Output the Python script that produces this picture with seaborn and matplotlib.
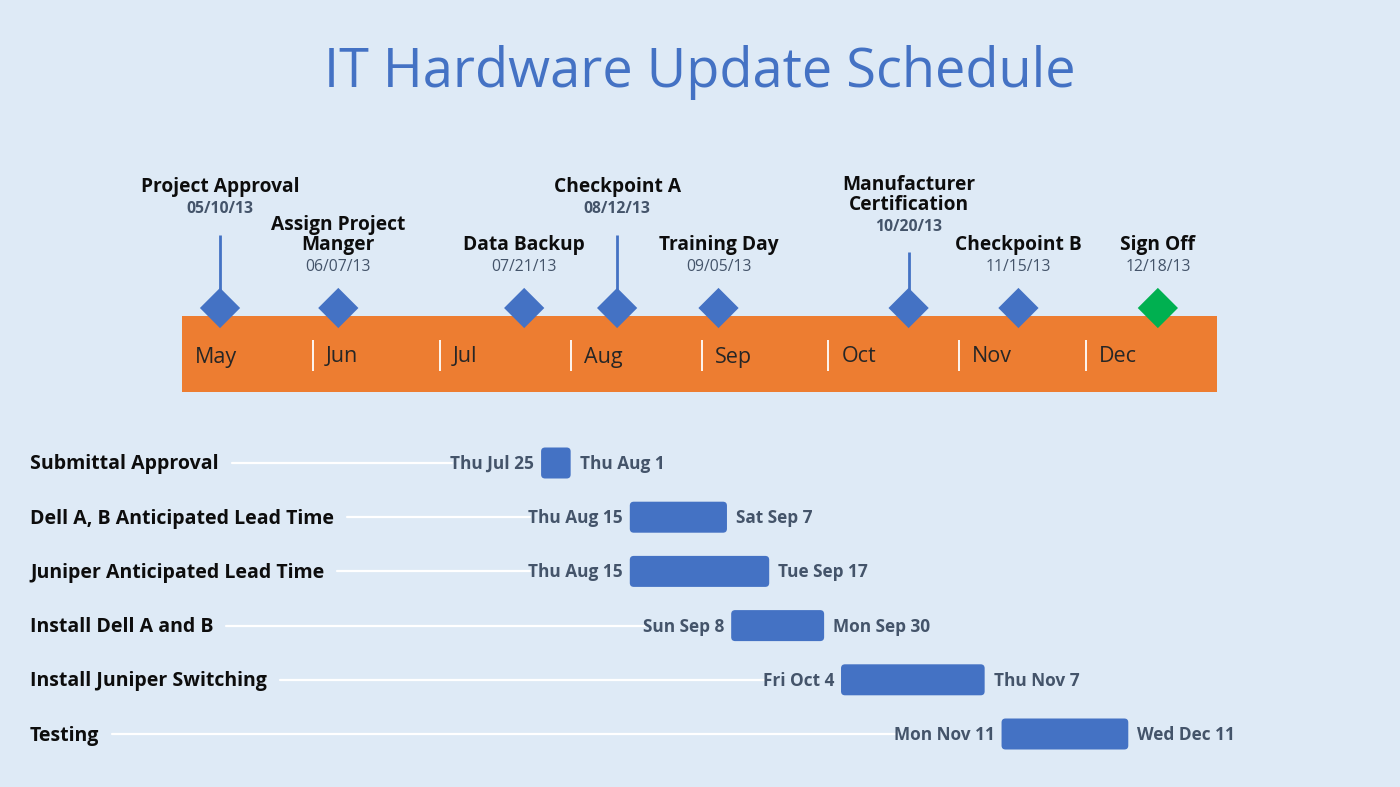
import datetime as dt
import matplotlib
matplotlib.use("Agg")
import matplotlib.pyplot as plt
import matplotlib.dates as mdates
from matplotlib.patches import FancyBboxPatch
import seaborn as sns
import pandas as pd

# ---------------- data ----------------
title = "IT Hardware Update Schedule"

months = ["May", "Jun", "Jul", "Aug", "Sep", "Oct", "Nov", "Dec"]
month_starts = ["2013-05-01", "2013-06-01", "2013-07-01", "2013-08-01",
                "2013-09-01", "2013-10-01", "2013-11-01", "2013-12-01"]
timeline_start = "2013-05-01"
timeline_end = "2014-01-01"

milestone_names = ["Project Approval", "Assign Project\nManger", "Data Backup",
                   "Checkpoint A", "Training Day", "Manufacturer\nCertification",
                   "Checkpoint B", "Sign Off"]
milestone_dates = ["2013-05-10", "2013-06-07", "2013-07-21", "2013-08-12",
                   "2013-09-05", "2013-10-20", "2013-11-15", "2013-12-18"]
milestone_kind = ["milestone"] * 7 + ["final"]
milestone_tier = ["top", "low", "low", "top", "low", "mid", "low", "low"]

tasks = ["Submittal Approval", "Dell A, B Anticipated Lead Time",
         "Juniper Anticipated Lead Time", "Install Dell A and B",
         "Install Juniper Switching", "Testing"]
task_starts = ["2013-07-25", "2013-08-15", "2013-08-15", "2013-09-08",
               "2013-10-04", "2013-11-11"]
task_ends = ["2013-08-01", "2013-09-07", "2013-09-17", "2013-09-30",
             "2013-11-07", "2013-12-11"]

# ---------------- style ----------------
BG = "#DEEAF6"
BLUE = "#4472C4"
ORANGE = "#ED7D31"
GREEN = "#00B050"
SLATE = "#44546A"
INK = "#0D0D0D"

sns.set_theme(style="white")
plt.rcParams["font.family"] = ["Open Sans", "DejaVu Sans"]

W, H = 1400, 787
fig = plt.figure(figsize=(W / 100, H / 100), dpi=100, facecolor=BG)
ax = fig.add_axes([0, 0, 1, 1])
ax.set_facecolor(BG)

t0 = mdates.date2num(pd.Timestamp(timeline_start))
t1 = mdates.date2num(pd.Timestamp(timeline_end))
band_left_px, band_right_px = 182, 1217
k = (band_right_px - band_left_px) / (t1 - t0)  # px per day
XLIM = (t0 - band_left_px / k, t0 + (W - band_left_px) / k)


def px(n):
    return n / k  # pixels -> days


# title
fig.text(0.5, 1 - 87 / H, title, ha="center", va="baseline",
         fontsize=39, color=BLUE)

# timeline band
ax.barh(354, t1 - t0, left=t0, height=76, color=ORANGE, linewidth=0, zorder=1)
ms = [mdates.date2num(pd.Timestamp(d)) for d in month_starts]
ax.vlines(ms[1:], 340, 371, color="white", lw=1.3, zorder=2)
for m, x in zip(months, ms):
    ax.text(x + px(13), 357, m, ha="left", va="center", fontsize=15.5,
            color="#262626", zorder=3)

# milestones
mdf = pd.DataFrame({
    "date": [mdates.date2num(pd.Timestamp(d)) for d in milestone_dates],
    "y": 308,
    "kind": milestone_kind,
})
tier_layout = {"top": dict(date_y=209, stem=235, bold=True),
               "mid": dict(date_y=227, stem=252, bold=True),
               "low": dict(date_y=267, stem=None, bold=False)}
for name, d, tier, x in zip(milestone_names, milestone_dates, milestone_tier, mdf["date"]):
    lay = tier_layout[tier]
    if lay["stem"] is not None:
        ax.vlines(x, lay["stem"], 300, color=BLUE, lw=2, zorder=2)
    ts = pd.Timestamp(d)
    ax.text(x, lay["date_y"], ts.strftime("%m/%d/%y"), ha="center", va="center",
            fontsize=11.3, color=SLATE,
            fontweight="bold" if lay["bold"] else "normal", zorder=3)
    ax.text(x, lay["date_y"] - 12, name, ha="center", va="bottom",
            fontsize=13.8, fontweight="bold", color=INK, linespacing=1.0, zorder=3)

sns.scatterplot(data=mdf, x="date", y="y", hue="kind", marker="D", s=420,
                palette={"milestone": BLUE, "final": GREEN}, linewidth=0,
                legend=False, ax=ax, zorder=4)
ax.set_xlabel("")
ax.set_ylabel("")
ax.axis("off")
ax.set_xlim(*XLIM)
ax.set_ylim(H, 0)

# gantt
row_y0, row_step, bar_h = 463, 54.2, 31
fig.canvas.draw()
renderer = fig.canvas.get_renderer()
inv = ax.transData.inverted()
for i, (task, s, e) in enumerate(zip(tasks, task_starts, task_ends)):
    y = row_y0 + i * row_step
    ts, te = pd.Timestamp(s), pd.Timestamp(e)
    xs = mdates.date2num(ts)
    xe = mdates.date2num(te)
    bar = FancyBboxPatch((xs, y - bar_h / 2), xe - xs, bar_h,
                         boxstyle="round,pad=0,rounding_size=%f" % px(4),
                         mutation_aspect=k, facecolor=BLUE, edgecolor="none",
                         zorder=3)
    ax.add_patch(bar)
    lab = ax.text(XLIM[0] + px(30), y + 1.5, task, ha="left", va="center",
                  fontsize=14, fontweight="bold", color=INK, zorder=3)
    sl = ax.text(xs - px(7), y + 1, f"{ts:%a} {ts:%b} {ts.day}", ha="right", va="center",
                 fontsize=12.4, fontweight="bold", color=SLATE, zorder=3)
    ax.text(xe + px(9), y + 1, f"{te:%a} {te:%b} {te.day}", ha="left", va="center",
            fontsize=12.4, fontweight="bold", color=SLATE, zorder=3)
    bb1 = lab.get_window_extent(renderer)
    bb2 = sl.get_window_extent(renderer)
    xa = inv.transform((bb1.x1 + 13, 0))[0]
    xb = inv.transform((bb2.x0 + 2, 0))[0]
    ax.plot([xa, xb], [y, y], color="white", lw=1.6, zorder=2)

ax.set_xlim(*XLIM)
ax.set_ylim(H, 0)
fig.savefig("out.png", dpi=100, facecolor=BG)
